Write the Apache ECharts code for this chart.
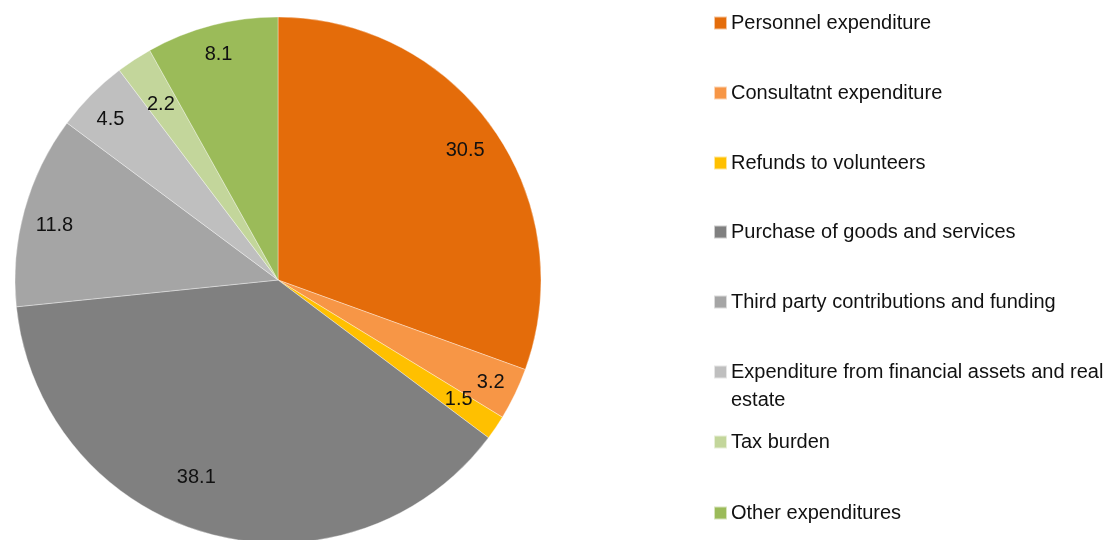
<!DOCTYPE html>
<html>
<head>
<meta charset="utf-8">
<script src="https://cdn.jsdelivr.net/npm/echarts@6/dist/echarts.min.js"></script>
<style>
html,body{margin:0;padding:0;background:#fff;}
#chart{width:1115px;height:540px;}
</style>
</head>
<body>
<div id="chart"></div>
<script>
const categories = [
  'Personnel expenditure',
  'Consultatnt expenditure',
  'Refunds to volunteers',
  'Purchase of goods and services',
  'Third party contributions and funding',
  'Expenditure from financial assets and real estate',
  'Tax burden',
  'Other expenditures'
];
const values = [30.5, 3.2, 1.5, 38.1, 11.8, 4.5, 2.2, 8.1];
const colors = ['#E46C0A', '#F79646', '#FFC000', '#808080', '#A5A5A5', '#BFBFBF', '#C3D69B', '#9BBB59'];
// label placement style: ring (inner/outer) and a small nudge like Excel's data-label layout
const labelRing = ['outer', 'outer', 'inner', 'inner', 'outer', 'outer', 'inner', 'outer'];
const labelNudge = [[-6, 6], [0, 0], [2, -2], [-24, -11], [4, 8], [0, 6], [1, 5], [0, 3]];

const data = categories.map((c, i) => ({ name: c, value: values[i] }));

const cx = 278, cy = 280, R = 263;
const FONT = 'Liberation Sans, Arial, sans-serif';

const legendTops = [23, 93, 163, 232, 302, 372, 442, 513];
const legends = categories.map((c, i) => ({
  data: [c],
  orient: 'vertical',
  left: 713,
  top: (c.indexOf('real estate') >= 0) ? legendTops[i] - 42 : legendTops[i] - 14,
  padding: 0,
  itemWidth: 13,
  itemHeight: 13,
  itemGap: 0,
  icon: 'rect',
  selectedMode: false,
  formatter: (name) => name.indexOf('real estate') >= 0
    ? '\nExpenditure from financial assets and real\nestate'
    : name,
  textStyle: { fontFamily: FONT, fontSize: 20, color: '#111111', lineHeight: 28, padding: [0, 0, 0, -1] }
}));

function labelSeries(ring, r0) {
  return {
    type: 'pie',
    center: [cx, cy],
    radius: [Math.round(R * r0), R],
    startAngle: 90,
    clockwise: true,
    data: data.map((d, i) => ({
      name: d.name,
      value: d.value,
      label: { show: labelRing[i] === ring, offset: labelNudge[i] }
    })),
    legendHoverLink: false,
    itemStyle: { color: 'rgba(0,0,0,0)', borderWidth: 0 },
    label: {
      position: 'inside',
      formatter: (p) => p.value.toFixed(1),
      fontFamily: FONT,
      fontSize: 20,
      color: '#111111'
    },
    labelLine: { show: false },
    emphasis: { disabled: true },
    silent: true
  };
}

const chart = echarts.init(document.getElementById('chart'), null, { renderer: 'canvas' });
chart.setOption({
  backgroundColor: '#ffffff',
  animation: false,
  color: colors,
  legend: legends,
  series: [
    {
      type: 'pie',
      center: [cx, cy],
      radius: [0, R],
      startAngle: 90,
      clockwise: true,
      data: data,
      label: { show: false },
      labelLine: { show: false },
      itemStyle: { borderColor: 'rgba(255,255,255,0.6)', borderWidth: 0.6 },
      emphasis: { disabled: true },
      silent: true
    },
    labelSeries('outer', 0.77),
    labelSeries('inner', 0.62)
  ]
});
</script>
</body>
</html>
